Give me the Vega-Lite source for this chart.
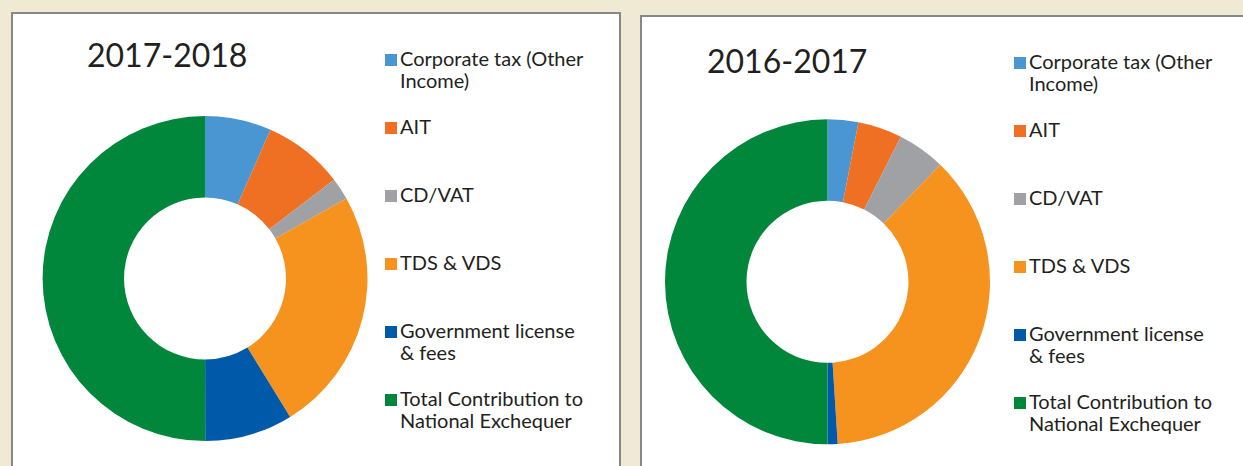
{
  "$schema": "https://vega.github.io/schema/vega-lite/v6.json",
  "background": "#f0e9d3",
  "padding": {"left": 11, "top": 12, "right": 0, "bottom": 0},
  "spacing": 19,
  "center": true,
  "datasets": {
    "shares": [
      {"period": "2017-2018", "category": "Corporate tax (Other Income)", "value": 6.6, "idx": 1},
      {"period": "2017-2018", "category": "AIT", "value": 8.0, "idx": 2},
      {"period": "2017-2018", "category": "CD/VAT", "value": 2.2, "idx": 3},
      {"period": "2017-2018", "category": "TDS & VDS", "value": 24.4, "idx": 4},
      {"period": "2017-2018", "category": "Government license & fees", "value": 8.75, "idx": 5},
      {"period": "2017-2018", "category": "Total Contribution to National Exchequer", "value": 50, "idx": 6},
      {"period": "2016-2017", "category": "Corporate tax (Other Income)", "value": 3.05, "idx": 1},
      {"period": "2016-2017", "category": "AIT", "value": 4.4, "idx": 2},
      {"period": "2016-2017", "category": "CD/VAT", "value": 4.75, "idx": 3},
      {"period": "2016-2017", "category": "TDS & VDS", "value": 36.8, "idx": 4},
      {"period": "2016-2017", "category": "Government license & fees", "value": 1.0, "idx": 5},
      {"period": "2016-2017", "category": "Total Contribution to National Exchequer", "value": 50, "idx": 6}
    ]
  },
  "config": {
    "font": "Lato",
    "title": {"anchor": "start", "font": "Lato", "fontSize": 32, "fontWeight": "normal", "color": "#231f20", "offset": 0, "baseline": "alphabetic"},
    "legend": {
      "orient": "none", "legendX": 369, "legendY": 37, "padding": 0,
      "symbolType": "square", "symbolSize": 144, "symbolStrokeWidth": 0,
      "labelFont": "Lato", "labelFontSize": 20, "labelColor": "#231f20",
      "labelOffset": -1, "labelLimit": 400, "rowPadding": 26
    }
  },
  "hconcat": [
    {
      "width": 608, "height": 537,
      "view": {"fill": "white", "stroke": "#878787", "strokeWidth": 2},
      "title": {"text": "2017-2018", "dx": 75, "dy": 65},
      "data": {"name": "shares"},
      "transform": [{"filter": "datum.period == '2017-2018'"}],
      "mark": {"type": "arc", "innerRadius": 81, "outerRadius": 162.5},
      "encoding": {
        "x": {"datum": 0.3174, "type": "quantitative", "scale": {"domain": [0, 1], "nice": false, "zero": false}, "axis": null},
        "y": {"datum": 0.5056, "type": "quantitative", "scale": {"domain": [0, 1], "nice": false, "zero": false}, "axis": null},
        "theta": {"field": "value", "type": "quantitative", "stack": true},
        "order": {"field": "idx", "type": "quantitative"},
        "color": {
          "field": "category", "type": "nominal",
          "scale": {
            "domain": ["Corporate tax (Other Income)", "AIT", "CD/VAT", "TDS & VDS", "Government license & fees", "Total Contribution to National Exchequer"],
            "range": ["#4a96d2", "#f07023", "#a0a1a4", "#f6921e", "#0059a9", "#00873c"]
          },
          "legend": {
            "title": null,
            "labelExpr": "datum.label == 'Corporate tax (Other Income)' ? ['Corporate tax (Other', 'Income)'] : datum.label == 'Government license & fees' ? ['Government license', '& fees'] : datum.label == 'Total Contribution to National Exchequer' ? ['Total Contribution to', 'National Exchequer'] : [datum.label, '']"
          }
        }
      }
    },
    {
      "width": 620, "height": 531,
      "view": {"fill": "white", "stroke": "#878787", "strokeWidth": 2},
      "title": {"text": "2016-2017", "dx": 66, "dy": 68},
      "data": {"name": "shares"},
      "transform": [{"filter": "datum.period == '2016-2017'"}],
      "mark": {"type": "arc", "innerRadius": 81, "outerRadius": 162.5},
      "encoding": {
        "x": {"datum": 0.3008, "type": "quantitative", "scale": {"domain": [0, 1], "nice": false, "zero": false}, "axis": null},
        "y": {"datum": 0.4994, "type": "quantitative", "scale": {"domain": [0, 1], "nice": false, "zero": false}, "axis": null},
        "theta": {"field": "value", "type": "quantitative", "stack": true},
        "order": {"field": "idx", "type": "quantitative"},
        "color": {
          "field": "category", "type": "nominal",
          "scale": {
            "domain": ["Corporate tax (Other Income)", "AIT", "CD/VAT", "TDS & VDS", "Government license & fees", "Total Contribution to National Exchequer"],
            "range": ["#4a96d2", "#f07023", "#a0a1a4", "#f6921e", "#0059a9", "#00873c"]
          },
          "legend": {
            "title": null,
            "labelExpr": "datum.label == 'Corporate tax (Other Income)' ? ['Corporate tax (Other', 'Income)'] : datum.label == 'Government license & fees' ? ['Government license', '& fees'] : datum.label == 'Total Contribution to National Exchequer' ? ['Total Contribution to', 'National Exchequer'] : [datum.label, '']"
          }
        }
      }
    }
  ],
  "resolve": {"scale": {"color": "independent", "x": "independent", "y": "independent"}, "legend": {"color": "independent"}}
}
